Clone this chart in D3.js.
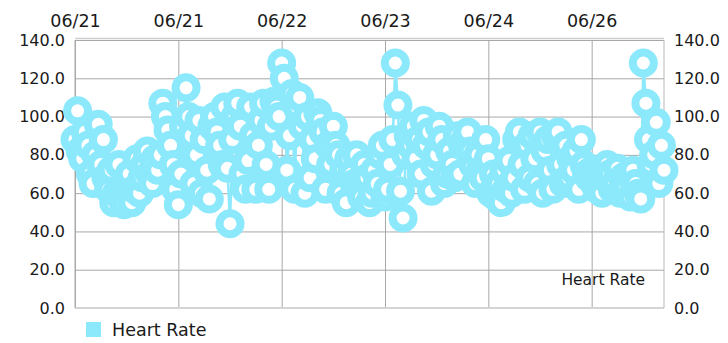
<!DOCTYPE html>
<html>
<head>
<meta charset="utf-8">
<script src="https://cdn.jsdelivr.net/npm/d3@7"></script>
<style>
  body { margin: 0; background: #fff; }
  text { font-family: "DejaVu Sans", sans-serif; fill: #1a1a1a; }
  .grid line { stroke: #a8a8a8; stroke-width: 1; }
  .grid path { display: none; }
</style>
</head>
<body>
<svg id="chart" width="728" height="343"></svg>
<script>
// heart rate samples (bpm), plotted by sample index
const heartRate = [
  88, 103, 82, 78, 92, 85,
  70, 65, 80, 96, 75, 88, 68,
  62, 72, 55, 60, 75, 58, 54, 66, 70, 55, 62, 78, 60,
  68, 75, 82, 70, 65, 78, 72, 80,
  107, 100, 93, 85, 75, 62, 54,
  70, 95, 115, 100, 90, 65, 80, 98, 60, 88,
  72, 57, 95, 100, 92, 85, 75, 105, 73, 44,
  88, 100, 107, 95, 70, 62, 77, 105, 90, 62, 85, 98, 107, 75, 62,
  95, 108, 105, 100, 128, 120, 72, 90, 112, 62,
  105, 110, 95, 60, 100, 68, 88, 78, 102, 98, 92, 62, 85, 75, 95,
  85, 80, 60, 72, 55, 78, 70, 65, 80, 62, 58, 75, 68, 55, 60,
  72, 65, 80, 85, 58, 62, 75, 88,
  128, 106, 61, 47, 80, 90, 85,
  95, 78, 88, 70, 98, 85, 92, 61, 75, 80, 95, 88, 65, 70, 82,
  75, 68, 90, 70, 85, 88, 92, 82, 75, 65, 80, 72, 68, 88, 78,
  60, 70, 58, 65, 55, 72, 62, 77, 60, 68,
  88, 92, 75, 62, 85, 68, 90, 78, 65, 92, 60, 82, 88, 72, 62,
  90, 92, 75, 65, 85, 68, 78, 72, 82, 62, 88, 75, 70, 68, 72,
  65, 62, 72, 60, 68, 75, 70, 62, 65, 73, 60, 68, 62, 70,
  58, 72, 65, 60, 57, 128, 107, 88,
  75, 80, 97, 65, 85, 72
];
const dateTickIdx = [0, 40, 80, 120, 160, 200];
const dateLabels = ["06/21", "06/21", "06/22", "06/23", "06/24", "06/26"];
const yTicks = [0, 20, 40, 60, 80, 100, 120, 140];
const seriesName = "Heart Rate";

const color = "#8ce9fc";
const svg = d3.select("#chart");
const margins = { top: 40, bottom: 35, left: 75, right: 64 };
const width = +svg.attr("width");
const height = +svg.attr("height");
const plotW = width - margins.left - margins.right;
const plotH = height - margins.top - margins.bottom;

const x = d3.scaleLinear().domain([0, heartRate.length - 1]).range([0, plotW]);
const y = d3.scaleLinear().domain([0, 140]).range([plotH, 0]);

const g = svg.append("g")
  .attr("transform", "translate(" + margins.left + "," + margins.top + ")");

// horizontal grid + left labels
g.append("g")
  .attr("class", "grid")
  .call(d3.axisLeft(y).tickValues(yTicks).tickFormat(d3.format(".1f"))
    .tickSize(-plotW).tickPadding(10))
  .call(s => s.selectAll("text").attr("font-size", 16));

// right labels
g.append("g")
  .attr("class", "grid")
  .attr("transform", "translate(" + plotW + ",0)")
  .call(d3.axisRight(y).tickValues(yTicks).tickFormat(d3.format(".1f"))
    .tickSize(0).tickPadding(10))
  .call(s => s.selectAll("text").attr("font-size", 16));

// vertical grid + date labels on top
g.append("g")
  .attr("class", "grid")
  .call(d3.axisTop(x).tickValues(dateTickIdx).tickFormat((d, i) => dateLabels[i])
    .tickSize(-plotH).tickPadding(13))
  .call(s => s.selectAll("text").attr("font-size", 17.5));

// frame
g.append("line").attr("x1", 0).attr("x2", plotW).attr("y1", -1.5).attr("y2", -1.5)
  .attr("stroke", "#cfcfcf").attr("stroke-width", 1.5);
g.append("line").attr("x1", 0).attr("x2", plotW).attr("y1", plotH).attr("y2", plotH)
  .attr("stroke", "#d4d4d4").attr("stroke-width", 2);
g.append("line").attr("x1", plotW).attr("x2", plotW).attr("y1", 0).attr("y2", plotH)
  .attr("stroke", "#b8b8b8").attr("stroke-width", 1);
g.append("line").attr("x1", 0).attr("x2", 0).attr("y1", 0).attr("y2", plotH)
  .attr("stroke", "#a8a8a8").attr("stroke-width", 1);

// in-plot series label
g.append("text")
  .attr("x", 570)
  .attr("y", 245)
  .attr("text-anchor", "end")
  .attr("font-size", 15.5)
  .text(seriesName);

// line under the markers
const line = d3.line().x((d, i) => x(i)).y(d => y(d));
g.append("path")
  .datum(heartRate)
  .attr("d", line)
  .attr("fill", "none")
  .attr("stroke", color)
  .attr("stroke-width", 2.5);

g.selectAll("circle.pt")
  .data(heartRate)
  .join("circle")
  .attr("class", "pt")
  .attr("cx", (d, i) => x(i))
  .attr("cy", d => y(d))
  .attr("r", 10.5)
  .attr("fill", "#fff")
  .attr("stroke", color)
  .attr("stroke-width", 8);

// legend
const legend = svg.append("g").attr("transform", "translate(86,322)");
legend.append("rect").attr("width", 15).attr("height", 15).attr("fill", color);
legend.append("text").attr("x", 26).attr("y", 14).attr("font-size", 17.5).text(seriesName);
</script>
</body>
</html>
